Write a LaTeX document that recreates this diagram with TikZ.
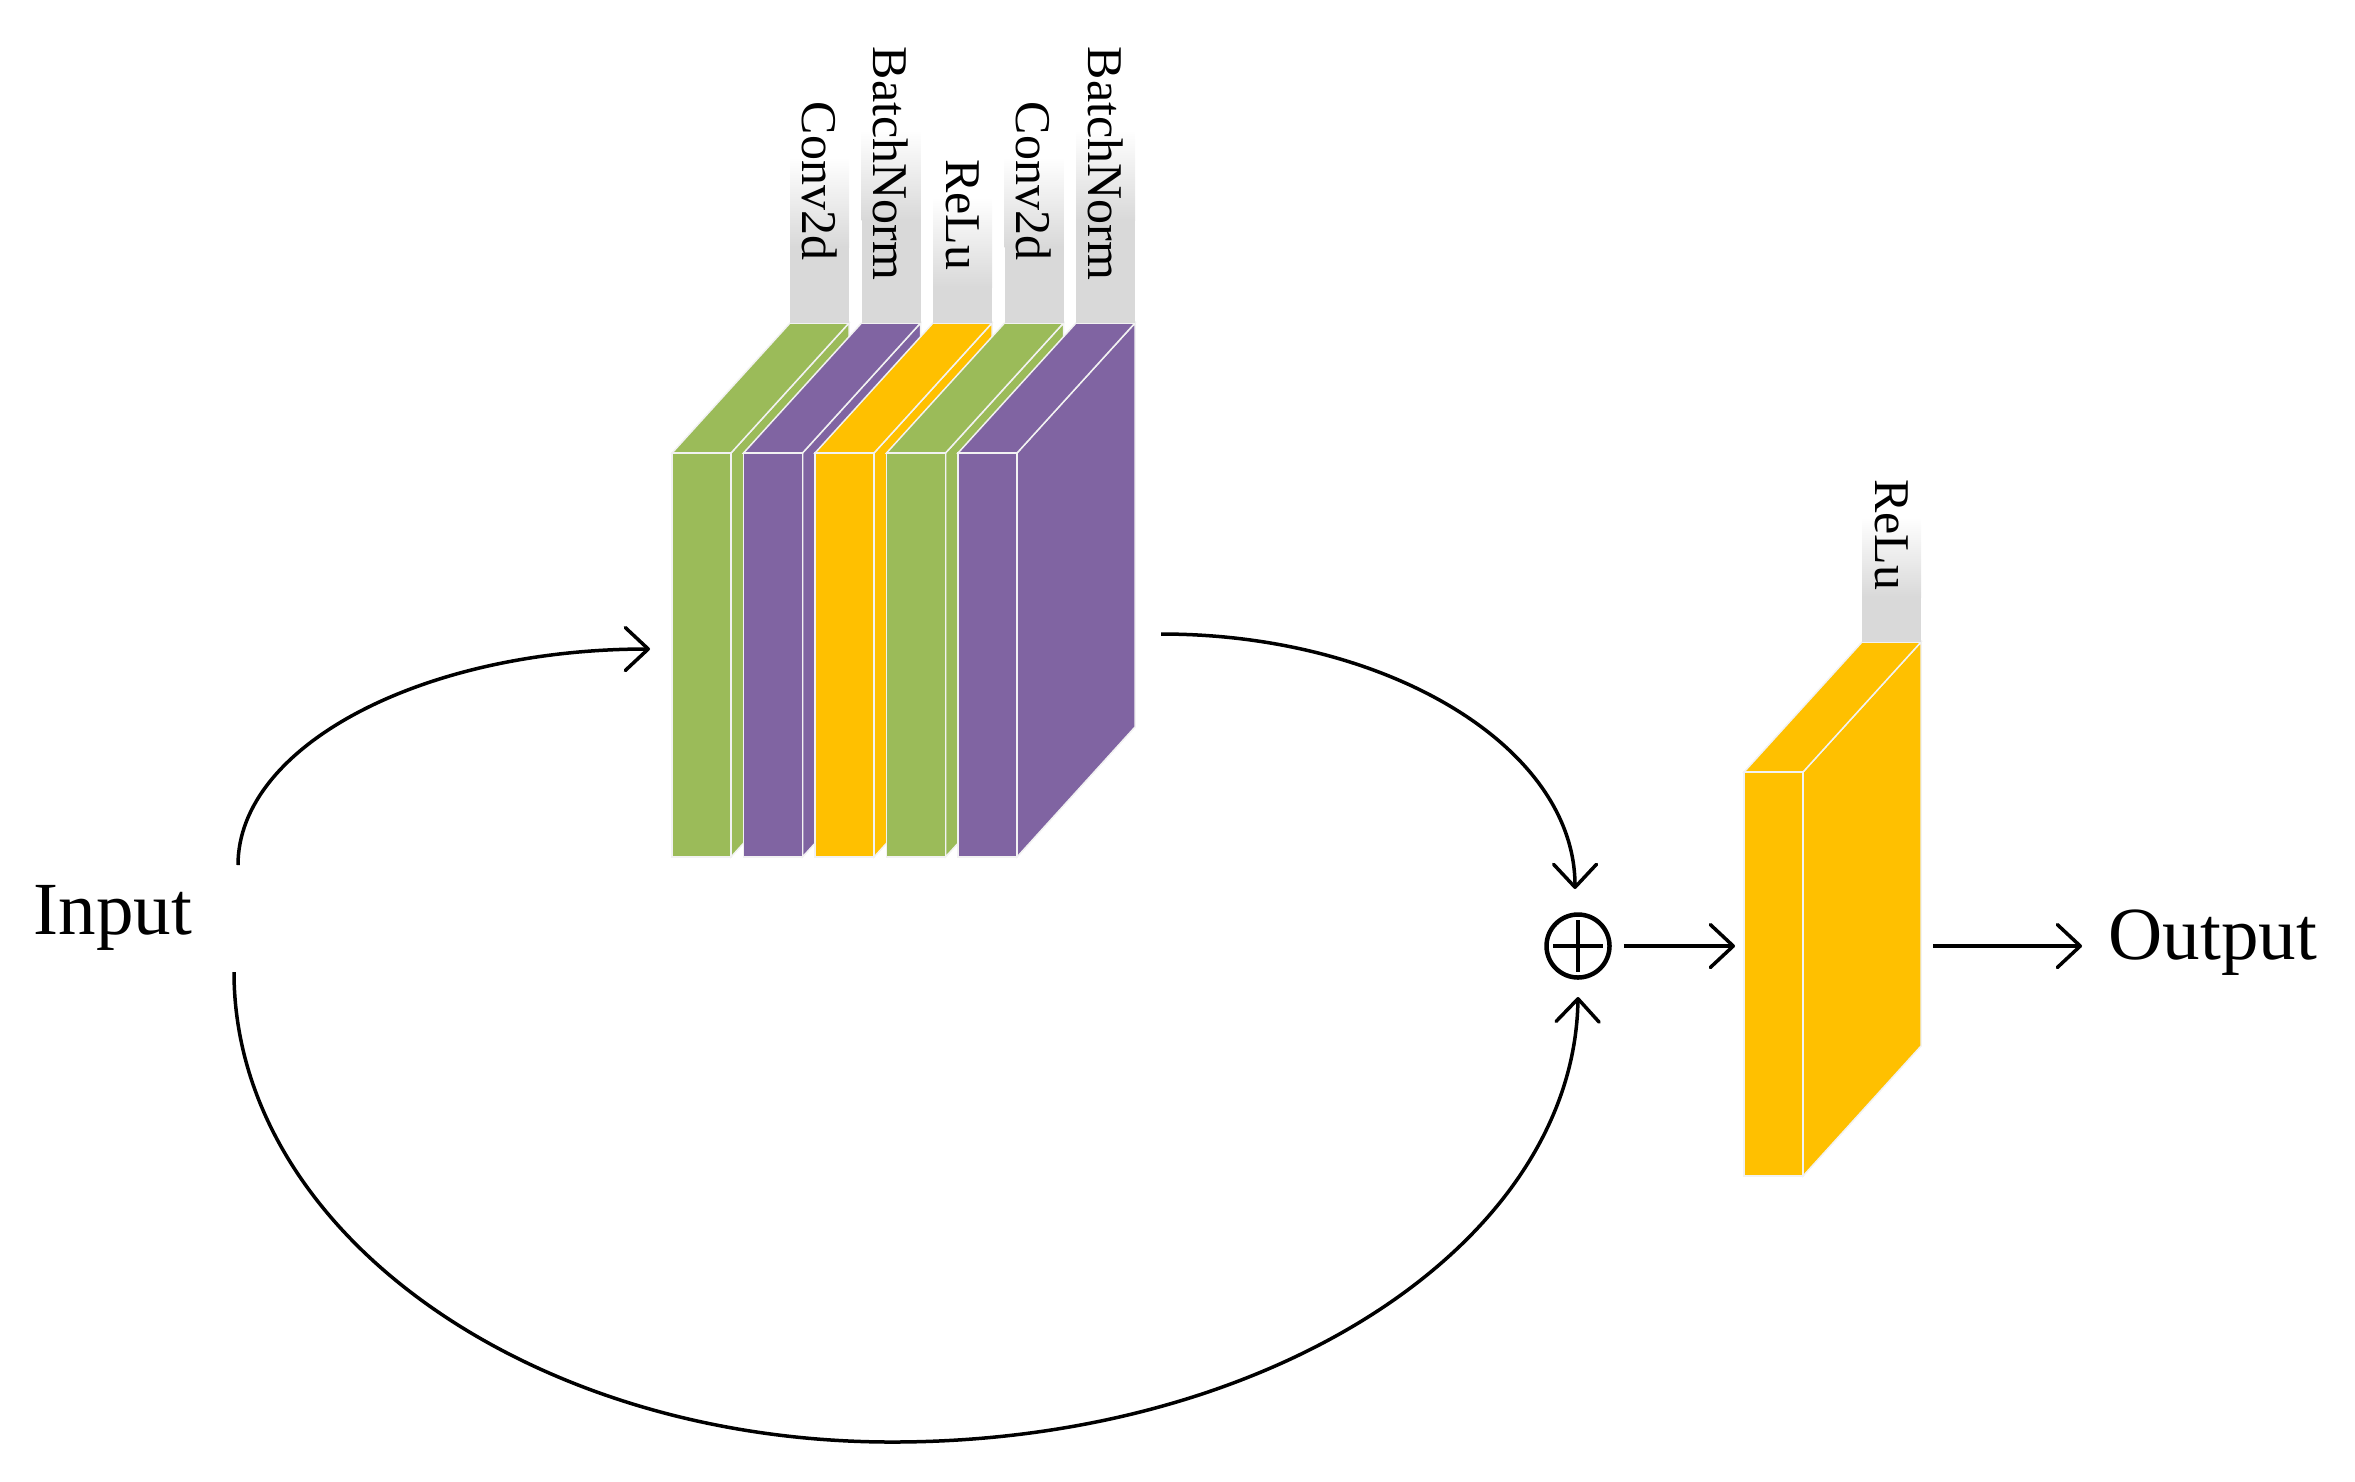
\documentclass[tikz,border=0pt]{standalone}
\usepackage{fontspec}
\setmainfont{Liberation Serif}
\usetikzlibrary{arrows.meta}

\definecolor{convgreen}{RGB}{155,187,89}
\definecolor{normpurple}{RGB}{128,100,162}
\definecolor{reluyellow}{RGB}{255,192,0}
\definecolor{tabgray}{RGB}{217,217,217}
\definecolor{edgewhite}{RGB}{242,242,242}

\tikzset{every picture/.style={line width=0.7pt}}
\tikzset{
	conn/.style={-{Straight Barb[length=4.6pt,width=8.6pt,round]}},
	slabedge/.style={draw=edgewhite, line width=0.3pt},
	layertext/.style={font=\fontsize{10}{12}\selectfont, inner sep=0pt, rotate=-90, anchor=east},
	bigtext/.style={font=\fontsize{15}{18}\selectfont, inner sep=0pt}
}

\begin{document}
\begin{tikzpicture}[x=0.2pt,y=0.2pt,yscale=-1]
	\useasboundingbox (0,0) rectangle (2355,1481);

	% residual block: layers drawn left to right, each one hides the side of the one before
	\foreach \lname/\lcol/\i/\ttop/\tend in {Conv2d/convgreen/0/157/262, BatchNorm/normpurple/1/130/282, ReLu/reluyellow/2/197/272, Conv2d/convgreen/3/157/262, BatchNorm/normpurple/4/130/282}{
		\pgfmathsetmacro{\xa}{672+71.5*\i}
		% side
		\filldraw[fill=\lcol, slabedge] ({\xa+59},453) -- ({\xa+177},323) -- ({\xa+177},727) -- ({\xa+59},857) -- cycle;
		% top
		\filldraw[fill=\lcol, slabedge] (\xa,453) -- ({\xa+118},323) -- ({\xa+177},323) -- ({\xa+59},453) -- cycle;
		% front
		\filldraw[fill=\lcol, slabedge] (\xa,453) rectangle ({\xa+59},857);
		% tab with the layer name
		\shade[top color=white, bottom color=tabgray] ({\xa+118},\ttop) rectangle ({\xa+177},{\ttop+90});
		\fill[tabgray] ({\xa+118},{\ttop+89}) rectangle ({\xa+177},323);
		\node[layertext] (lbl\i) at ({\xa+147.5},\tend) {\lname};
	}

	% final ReLu
	\filldraw[fill=reluyellow, slabedge] (1803,772) -- (1921,642) -- (1921,1046) -- (1803,1176) -- cycle;
	\filldraw[fill=reluyellow, slabedge] (1744,772) -- (1862,642) -- (1921,642) -- (1803,772) -- cycle;
	\filldraw[fill=reluyellow, slabedge] (1744,772) rectangle (1803,1176);
	\shade[top color=white, bottom color=tabgray] (1862,517) rectangle (1921,597);
	\fill[tabgray] (1862,596) rectangle (1921,642);
	\node[layertext] (lblout) at (1891.5,592) {ReLu};

	% in / out
	\node[bigtext, anchor=base west] (input) at (32,934) {Input};
	\node[bigtext, anchor=base west] (output) at (2107,959) {Output};
	\node[circle, draw, line width=0.9pt, minimum size=12.6pt, inner sep=0pt] (sum) at (1578,946) {};
	\draw[line width=0.9pt] (sum.center) +(-25,0) -- +(25,0);
	\draw[line width=0.9pt] (sum.center) +(0,-26) -- +(0,26);

	\coordinate (intop) at (238,865);
	\coordinate (inbot) at (234,972);
	\coordinate (stackin) at (650,649);
	\coordinate (stackout) at (1161,634);
	\coordinate (sumfromtop) at (1575,889);
	\coordinate (sumfrombot) at (1578,997);
	\coordinate (reluin) at (1735,946);
	\coordinate (reluout) at (1933,946);

	% connectors
	\draw[conn] (intop) .. controls (238,746) and (422,649) .. (stackin);
	\draw[conn] (stackout) .. controls (1389,634) and (1575,748) .. (sumfromtop);
	\draw[conn] (inbot) .. controls (234,1231) and (529,1442) .. (892,1442) .. controls (1271,1442) and (1574,1243) .. (sumfrombot);
	\draw[conn, shorten <=2.4pt] (sum.east) -- (reluin);
	\draw[conn, shorten >=5pt] (reluout) -- (reluout -| output.west);

\end{tikzpicture}
\end{document}
